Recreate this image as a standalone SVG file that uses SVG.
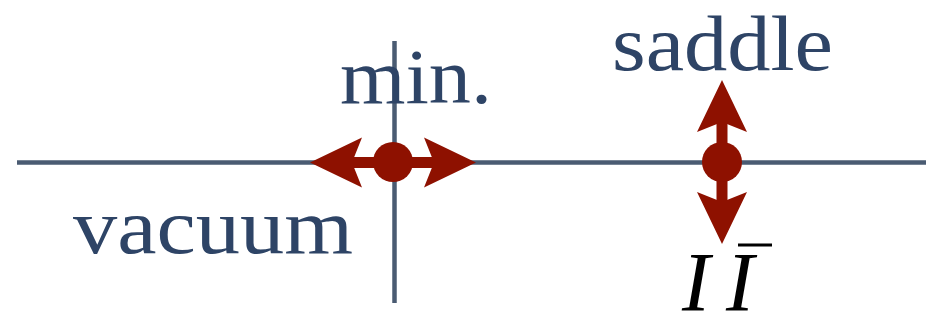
<svg xmlns="http://www.w3.org/2000/svg" width="926" height="330" viewBox="0 0 926 330">
<style>
.axis{stroke:#4a5b72;stroke-width:4.5;fill:none}
.lbl{font-family:"Liberation Serif",serif;font-size:78px;fill:#2e4466}
.math{font-family:"Liberation Serif",serif;font-size:84px;font-style:italic;fill:#000}
.red{fill:#8e1100}
</style>
<defs>
<path id="head" d="M0,0 L-52,-25 L-44,-5 L-44,5 L-52,25 Z"/>
</defs>
<g id="connectors">
<line class="axis" x1="17" y1="162.5" x2="926" y2="162.5"/>
<line class="axis" x1="394.5" y1="41" x2="394.5" y2="303"/>
</g>
<g id="min-point">
<rect class="red" x="352" y="157" width="82" height="11"/>
<use href="#head" class="red" transform="translate(310,162.5) rotate(180)"/>
<use href="#head" class="red" transform="translate(476,162.5)"/>
<circle class="red" cx="393" cy="162" r="20"/>
</g>
<g id="saddle-point">
<rect class="red" x="716.5" y="122" width="11" height="80"/>
<use href="#head" class="red" transform="translate(722,80) rotate(-90)"/>
<use href="#head" class="red" transform="translate(722,244) rotate(90)"/>
<circle class="red" cx="722" cy="162" r="20"/>
</g>
<g id="label-min"><text class="lbl" x="340" y="103" textLength="152" lengthAdjust="spacingAndGlyphs">min.</text></g>
<g id="label-saddle"><text class="lbl" x="612" y="70" textLength="221" lengthAdjust="spacingAndGlyphs">saddle</text></g>
<g id="label-vacuum"><text class="lbl" x="73" y="253" textLength="280" lengthAdjust="spacingAndGlyphs">vacuum</text></g>
<g id="label-instanton">
<text class="math" x="682" y="311">I</text>
<text class="math" x="726" y="311">I</text>
<line x1="738" y1="245" x2="772" y2="245" stroke="#000" stroke-width="3"/>
</g>
</svg>
